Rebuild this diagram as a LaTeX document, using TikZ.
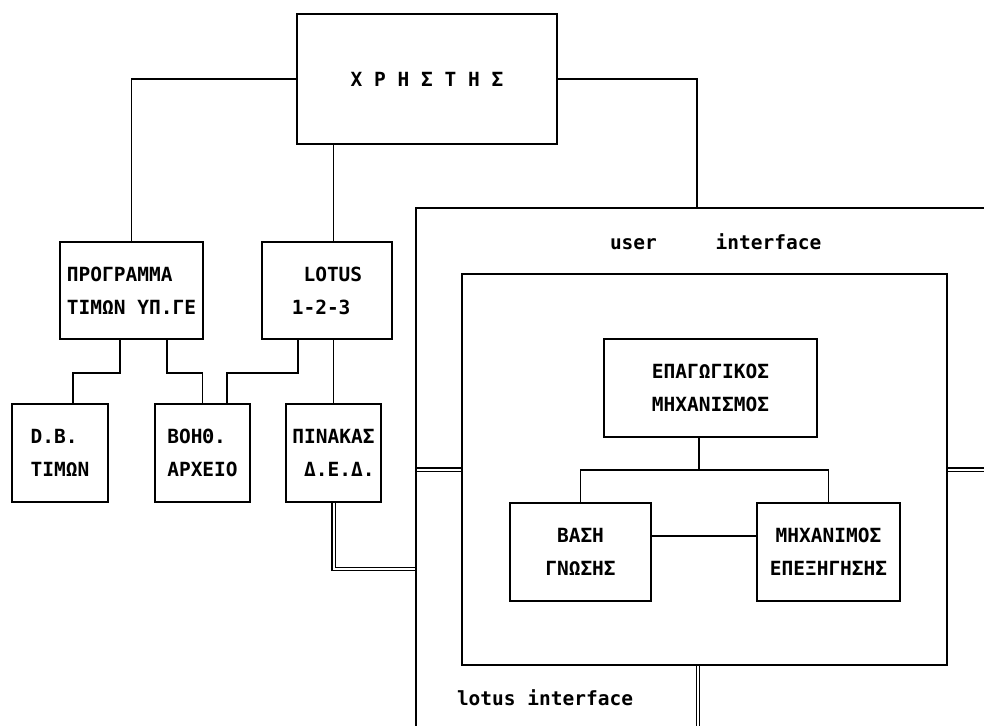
\documentclass[tikz,border=0pt]{standalone}
\usepackage{fontspec}
\newfontfamily\dmono{DejaVu Sans Mono}
\begin{document}
\begin{tikzpicture}[x=1pt,y=-1pt,
  every node/.style={inner sep=0pt,outer sep=0pt},
  txt/.style={font=\dmono\bfseries\fontsize{19.5}{33}\selectfont},
  box/.style={txt,draw,line width=2pt,align=left},
  cbox/.style={box,align=center},
  frame/.style={draw,line width=2pt},
  conn/.style={draw,line width=1.8pt},
  dbl/.style={draw,line width=1.2pt,double,double distance=2pt,shorten <=1pt,shorten >=1pt}]
\useasboundingbox (0,0) rectangle (984,725);
\clip (0,0) rectangle (984,725);
\fill[white] (0,0) rectangle (984,725);

% boxes
\node[box,minimum width=260pt,minimum height=130pt] (xr) at (427,79) {Χ Ρ Η Σ Τ Η Σ};
\node[box,minimum width=143pt,minimum height=97pt] (prog) at (131.5,290.5) {ΠΡΟΓΡΑΜΜΑ\\ΤΙΜΩΝ ΥΠ.ΓΕ};
\node[box,minimum width=130pt,minimum height=97pt] (lotus) at (327,290.5) {\hphantom{L}LOTUS\\1-2-3};
\node[box,minimum width=96pt,minimum height=98pt] (db) at (60,453) {D.B.\\ΤΙΜΩΝ};
\node[box,minimum width=95pt,minimum height=98pt] (boith) at (202.5,453) {ΒΟΗΘ.\\ΑΡΧΕΙΟ};
\node[box,minimum width=95pt,minimum height=98pt] (pin) at (333.5,453) {ΠΙΝΑΚΑΣ\\\hphantom{Δ}Δ.Ε.Δ.};

\node[frame,minimum width=594pt,minimum height=552pt] (outer) at (713,484) {};
\node[frame,minimum width=485pt,minimum height=391pt] (inner) at (704.5,469.5) {};
\node[cbox,minimum width=213pt,minimum height=98pt] (epag) at (710.5,388) {ΕΠΑΓΩΓΙΚΟΣ\\ΜΗΧΑΝΙΣΜΟΣ};
\node[cbox,minimum width=141pt,minimum height=98pt] (vasi) at (580.5,552) {ΒΑΣΗ\\ΓΝΩΣΗΣ};
\node[cbox,minimum width=143pt,minimum height=98pt] (mhx) at (828.5,552) {ΜΗΧΑΝΙΜΟΣ\\ΕΠΕΞΗΓΗΣΗΣ};

% labels
\node[txt,anchor=base west] (ui) at (610,249) {user\ \ \ \ \ interface};
\node[txt,anchor=base west] (li) at (457,705) {lotus interface};

% connectors
\coordinate (uitop) at (697,208);
\draw[conn] (xr.west) -| (prog.north);
\draw[conn] (xr.east) -| (uitop);
\draw[conn] (xr.south -| pin.north) -- (lotus.north -| pin.north);
\draw[conn] (lotus.south -| pin.north) -- (pin.north);
\draw[conn] ([xshift=-11.5pt]prog.south) -- ++(0,34) -| ([xshift=13pt]db.north);
\draw[conn] ([xshift=35.5pt]prog.south) -- ++(0,34) -| (boith.north);
\draw[conn] ([xshift=-29pt]lotus.south) -- ++(0,34) -| ([xshift=24.5pt]boith.north);

\coordinate (lj) at (416,569);
\draw[dbl] (pin.south) |- (lj);
\draw[dbl] (inner.west) -- (inner.west -| outer.west);
\coordinate (re) at (990,469.5);
\draw[dbl] (inner.east) -- (re);
\coordinate (be) at (698,730);
\draw[dbl] ([xshift=-6.5pt]inner.south) -- (be);

\draw[conn] ([xshift=-11.5pt]epag.south) -- ++(0,33);
\draw[conn] (vasi.north) -- ++(0,-33) -| (mhx.north);
\draw[conn] ([yshift=16pt]vasi.east) -- ([yshift=16pt]mhx.west);
\end{tikzpicture}
\end{document}
